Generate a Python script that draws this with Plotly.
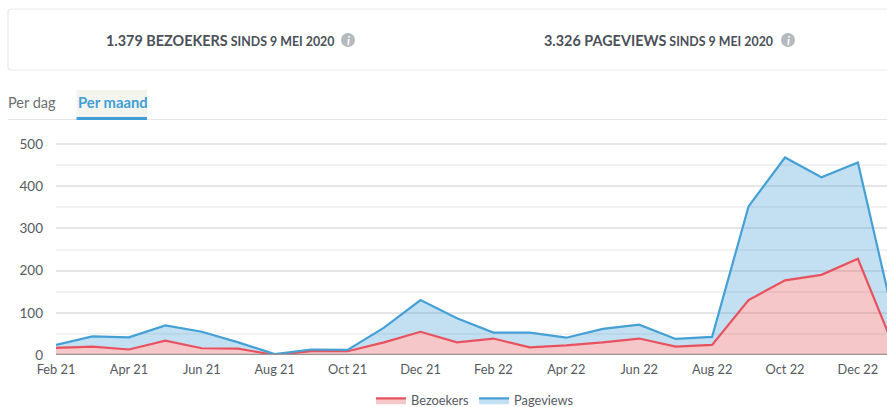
import plotly.graph_objects as go

months = ["Feb 21","Mar 21","Apr 21","May 21","Jun 21","Jul 21","Aug 21","Sep 21","Oct 21","Nov 21","Dec 21","Jan 22",
          "Feb 22","Mar 22","Apr 22","May 22","Jun 22","Jul 22","Aug 22","Sep 22","Oct 22","Nov 22","Dec 22","Jan 23"]
bezoekers = [17,20,13,34,16,15,0,9,9,30,55,30,39,18,23,30,39,20,24,130,177,190,228,16]
pageviews = [24,44,42,70,55,30,2,13,12,65,130,87,53,53,41,62,72,38,43,352,468,421,456,82]

W, H = 887, 407
L, R, T, B = 56, 0, 140, 52
FONT = "Lato, 'Open Sans', sans-serif"
def px(x): return (x - L) / (W - L - R)
def py(y): return 1 - (y - T) / (H - T - B)

fig = go.Figure()
fig.add_trace(go.Scatter(x=months, y=bezoekers, name="Bezoekers", mode="lines",
                         line=dict(color="#e8525f", width=2.2), fill="tozeroy",
                         fillcolor="rgba(225,85,90,0.33)"))
fig.add_trace(go.Scatter(x=months, y=pageviews, name="Pageviews", mode="lines",
                         line=dict(color="#45a0d5", width=2.2), fill="tonexty",
                         fillcolor="rgba(70,160,215,0.33)"))

shapes = [
    dict(type="path", path=f"M {px(900)} {py(9)} L {px(11)} {py(9)} Q {px(8)} {py(9)} {px(8)} {py(12)} L {px(8)} {py(67)} Q {px(8)} {py(70)} {px(11)} {py(70)} L {px(900)} {py(70)}",
         xref="paper", yref="paper", line=dict(color="#e9e9e9", width=1.2), fillcolor="white"),
    dict(type="line", x0=px(8), x1=px(887), y0=py(119.5), y1=py(119.5), xref="paper", yref="paper",
         line=dict(color="#e4e4e4", width=1.2)),
    dict(type="rect", x0=px(76.5), x1=px(147), y0=py(90), y1=py(117), xref="paper", yref="paper",
         fillcolor="#f4f4ef", line_width=0),
    dict(type="rect", x0=px(76.5), x1=px(147), y0=py(117), y1=py(120), xref="paper", yref="paper",
         fillcolor="#3f9fd6", line_width=0),
]
for cx in (348, 788):
    shapes.append(dict(type="circle", x0=px(cx-7), x1=px(cx+7), y0=py(33), y1=py(47), xref="paper", yref="paper",
                       fillcolor="#b4b9be", line_width=0))

def note(x, y, text, size, color, anchor="left"):
    return dict(x=px(x), y=py(y), xref="paper", yref="paper", text=text, showarrow=False, xanchor=anchor,
                yanchor="middle", align="left", font=dict(family=FONT, size=size, color=color))

annotations = [
    note(104, 40, "<b><span style='font-size:14.4px'>1.379 BEZOEKERS</span> SINDS 9 MEI 2020</b>", 12.4, "#4b5058"),
    note(542, 40, "<b><span style='font-size:14.4px'>3.326 PAGEVIEWS</span> SINDS 9 MEI 2020</b>", 12.4, "#4b5058"),
    note(348, 40, "<b><i>i</i></b>", 12, "white", "center"),
    note(788, 40, "<b><i>i</i></b>", 12, "white", "center"),
    note(6, 102, "Per dag", 14.5, "#6a6e73"),
    note(75.5, 102, "<b>Per maand</b>", 14.8, "#3f9fd6"),
]

fig.update_layout(
    width=W, height=H, margin=dict(l=L, r=R, t=T, b=B, pad=0, autoexpand=False),
    paper_bgcolor="white", plot_bgcolor="white",
    font=dict(family=FONT, size=13, color="#555a60"),
    shapes=shapes, annotations=annotations,
    showlegend=True,
    legend=dict(orientation="h", x=px(475), xanchor="center", y=py(385.5), yanchor="top",
                font=dict(family=FONT, size=12.8, color="#555a60"), itemwidth=30, traceorder="normal",
                bgcolor="rgba(0,0,0,0)"),
    xaxis=dict(type="category", categoryorder="array", categoryarray=months, range=[0, (W-L)/36.45],
               tickmode="array", tickvals=months[::2], ticktext=months[::2], showgrid=False,
               showline=False, zeroline=False, ticks="", tickfont=dict(size=12.8, color="#555a60"), ticklabelstandoff=5),
    yaxis=dict(range=[0, 215/0.422], tick0=0, dtick=100, gridcolor="#e6e6e6", gridwidth=2, zeroline=False,
               showline=False, ticks="", tickfont=dict(size=13.5, color="#555a60"), ticklabelstandoff=12,
               minor=dict(dtick=50, showgrid=True, gridcolor="#f2f2f2", gridwidth=2, ticks="")),
)
fig.add_shape(type="line", x0=0, x1=1, y0=0, y1=0, xref="x domain", yref="y", line=dict(color="#9a9292", width=2.5), layer="above")

fig.write_html("out.html", config=dict(displayModeBar=False), post_script="document.body.style.margin='0';window.dispatchEvent(new Event('resize'));")
